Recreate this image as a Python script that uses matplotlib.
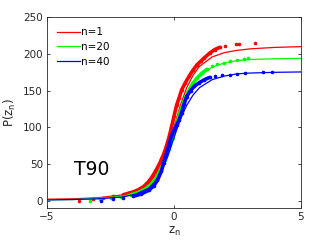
import matplotlib.pyplot as plt

# fitted curves
fit_z = [-5, -4, -3, -2, -1.5, -1, -0.75, -0.5, -0.25, 0, 0.25, 0.5, 0.75, 1, 1.5, 2, 2.5, 3, 4, 5]
red_fit = [2, 2.5, 4, 8, 13, 23, 33, 48, 70, 100, 130, 154, 171, 183, 196, 202, 205, 207, 209, 210]
green_fit = [1, 1.5, 3, 6, 11, 20, 30, 45, 66, 94, 121, 143, 159, 170, 182, 188, 191, 192.5, 193.5, 194]
blue_fit = [1, 1.5, 2.5, 5, 9, 17, 26, 40, 60, 86, 111, 130, 144, 154, 165, 170, 173, 174, 175, 175.5]

# empirical points
red_z = [-3.74, -3.2, -2.8, -2.4, -2.0, -1.8, -1.6, -1.4, -1.2, -1.0, -0.85, -0.7, -0.55, -0.4,
         -0.3, -0.2, -0.1, 0.0, 0.1, 0.2, 0.3, 0.45, 0.6, 0.75, 0.9, 1.05, 1.2, 1.4, 1.6, 1.8,
         2.0, 2.45, 2.55, 3.19]
red_p = [0, 2, 4, 6, 8, 10, 12, 15, 19, 26, 33, 42, 52, 64, 74, 86, 100, 115, 130, 140, 151,
         161, 170, 178, 185, 190, 195, 201, 206, 209, 211, 213, 214, 215]
green_z = [-3.3, -2.9, -2.5, -2.1, -1.7, -1.4, -1.1, -0.9, -0.7, -0.5, -0.35, -0.2, -0.05, 0.1,
           0.25, 0.4, 0.55, 0.7, 0.9, 1.1, 1.3, 1.5, 1.7, 1.95, 2.2, 2.5, 2.75, 2.93]
green_p = [0, 2, 3, 5, 8, 11, 16, 22, 31, 44, 56, 70, 86, 104, 121, 136, 148, 158, 167, 174,
           179, 183, 186, 188, 190, 192, 193, 195]
blue_z = [-2.87, -2.4, -2.0, -1.6, -1.3, -1.0, -0.8, -0.65, -0.5, -0.4, -0.3, -0.2, -0.1, 0.0,
          0.1, 0.2, 0.3, 0.4, 0.5, 0.65, 0.8, 1.0, 1.2, 1.4, 1.6, 1.9, 2.2, 2.5, 2.8, 3.5, 3.86]
blue_p = [0, 2, 4, 6, 9, 14, 20, 28, 40, 52, 64, 76, 88, 96, 103, 110, 120, 132, 142, 150, 156,
          161, 165, 168, 170, 171, 172, 173, 174, 175, 176]

# where the points are packed so tightly they read as a solid band
dense = [(4, 30), (4, 21), (3, 24)]

labels = ["n=1", "n=20", "n=40"]
colors = ["#ff0000", "#00ff00", "#0000ff"]
ink = "#262626"

fig = plt.figure(figsize=(3.32, 2.49), dpi=100)
ax = fig.add_axes([0.1416, 0.1647, 0.765, 0.7658])

series = [(red_z, red_p, red_fit), (green_z, green_p, green_fit), (blue_z, blue_p, blue_fit)]
for (z, p, fit), (i0, i1), color, label in zip(series, dense, colors, labels):
    ax.plot(z, p, ls="none", marker="o", ms=2.6, mew=0, color=color)
    ax.plot(z[i0:i1], p[i0:i1], color=color, lw=2.6, solid_capstyle="round")
    ax.plot(fit_z, fit, color=color, lw=0.9, label=label)

ax.set_xlim(-5, 5)
ax.set_ylim(-10, 250)
ax.set_xticks([-5, 0, 5])
ax.set_yticks([0, 50, 100, 150, 200, 250])
ax.tick_params(direction="in", length=2.5, width=0.6, top=True, right=True,
               labelsize=7.5, colors=ink, pad=3)
for spine in ax.spines.values():
    spine.set_color(ink)
    spine.set_linewidth(0.6)

ax.set_xlabel("z$_\\mathregular{n}$", fontsize=8.5, color=ink, labelpad=2)
ax.set_ylabel("P(z$_\\mathregular{n}$)", fontsize=8.5, color=ink, labelpad=4)
ax.text(-3.95, 35, "T90", fontsize=13.5, color="black")

ax.legend(loc="upper left", frameon=False, fontsize=7.5, handlelength=2.2,
          handletextpad=0.15, labelspacing=0.45, borderaxespad=0.55)

fig.savefig("out.png", dpi=100)
